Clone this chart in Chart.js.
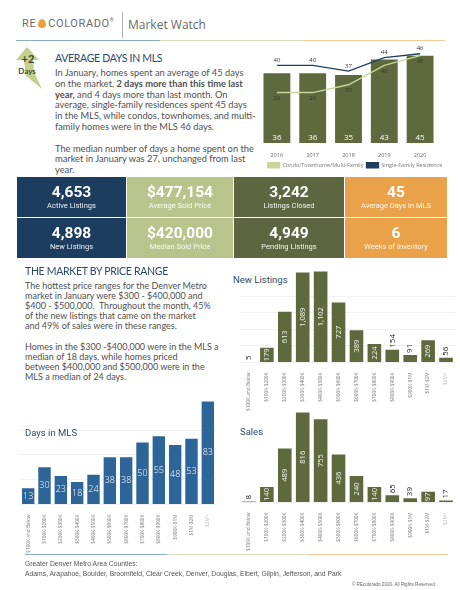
<!DOCTYPE html>
<html>
<head>
<meta charset="utf-8">
<title>REcolorado Market Watch</title>
<script src="https://cdn.jsdelivr.net/npm/chart.js@4.4.0/dist/chart.umd.min.js"></script>
<style>
  body { margin: 0; width: 460px; height: 590px; position: relative; background: #fff; overflow: hidden; font-family: 'Open Sans', sans-serif; }
  .abs { position: absolute; }
  .rule { position: absolute; height: 1.5px; }
  .txt { position: absolute; font-family: Lato, sans-serif; color: #4f4f4f; white-space: nowrap; }
  .head { position: absolute; font-family: Lato, sans-serif; color: #2c4a6b; white-space: nowrap; }
  .tiles { position: absolute; left: 17px; top: 177px; display: grid; grid-template-columns: 109px 106px 110px 102px; grid-template-rows: 40px 40px; gap: 1px; }
  .tile { display: flex; flex-direction: column; justify-content: center; align-items: center; color: #fff; font-family: Roboto, sans-serif; }
  .tile b { font-size: 15.5px; line-height: 16px; font-weight: 700; }
  .tile span { font-size: 7.5px; line-height: 11px; opacity: .92; }
  .navy { background: #1c3d5f; }
  .lime { background: #b7c58c; }
  .olive { background: #5d6641; }
  .orange { background: #e9a14a; }
  .ctitle { position: absolute; font-family: Roboto, sans-serif; font-size: 9.5px; color: #2c4a6b; background: #fff; }
</style>
</head>
<body>

<!-- header -->
<div class="abs" style="left:22px;top:17px;font:400 11px Roboto,sans-serif;color:#6b6b6b;letter-spacing:0.6px;white-space:nowrap">RE<span style="display:inline-block;width:8px;height:9px;margin:0 2px -1px 2px;background:#e9a040;border-radius:50% 50% 50% 50% / 65% 65% 35% 35%"></span>COLORADO<sup style="font-size:5px">®</sup></div>
<div class="abs" style="left:122px;top:12px;width:1px;height:26px;background:#b0b0b0"></div>
<div class="abs" style="left:128px;top:16px;font:400 12px 'Open Sans',sans-serif;color:#6a6a6a;white-space:nowrap">Market Watch</div>
<div class="rule" style="left:16px;top:39.5px;width:144px;background:#8aacca"></div>
<div class="rule" style="left:160px;top:39.5px;width:143px;background:#d6dfbd"></div>
<div class="rule" style="left:303px;top:39.5px;width:142px;background:#f4c893"></div>

<!-- +2 days badge -->
<svg class="abs" style="left:12px;top:46px" width="32" height="44" viewBox="0 0 32 44">
  <path d="M15 1 L27 14 L21 14 L22 26 L30 43 L14 30 L12 14 L4 14 Z" fill="#b9c97a" opacity="0.85"/>
</svg>
<div class="abs" style="left:14px;top:52px;width:28px;text-align:center;font:700 11px Lato,sans-serif;color:#3d4a2a">+2</div>
<div class="abs" style="left:12px;top:66px;width:30px;text-align:center;font:700 8px Lato,sans-serif;color:#3d4a2a">Days</div>

<div class="head" style="left:55px;top:52px;font-size:10.5px;letter-spacing:-0.3px">AVERAGE DAYS IN MLS</div>
<div class="txt" style="left:55px;top:68px;font-size:9.3px;line-height:10.8px">
In January, homes spent an average of 45 days<br>
on the market, <b>2 days more than this time last</b><br>
<b>year,</b> and 4 days more than last month. On<br>
average, single-family residences spent 45 days<br>
in the MLS, while condos, townhomes, and multi-<br>
family homes were in the MLS 46 days.<br>
<br>
The median number of days a home spent on the<br>
market in January was 27, unchanged from last<br>
year.
</div>

<div class="abs" style="left:255px;top:42px;width:200px;height:136px"><canvas id="daysTrend"></canvas></div>

<!-- tiles -->
<div class="tiles">
  <div class="tile navy"><b>4,653</b><span>Active Listings</span></div>
  <div class="tile lime"><b>$477,154</b><span>Average Sold Price</span></div>
  <div class="tile olive"><b>3,242</b><span>Listings Closed</span></div>
  <div class="tile orange"><b>45</b><span>Average Days in MLS</span></div>
  <div class="tile navy"><b>4,898</b><span>New Listings</span></div>
  <div class="tile lime"><b>$420,000</b><span>Median Sold Price</span></div>
  <div class="tile olive"><b>4,949</b><span>Pending Listings</span></div>
  <div class="tile orange"><b>6</b><span>Weeks of Inventory</span></div>
</div>

<div class="head" style="left:25px;top:265px;font-size:10.5px;letter-spacing:-0.3px">THE MARKET BY PRICE RANGE</div>
<div class="txt" style="left:25px;top:281px;font-size:9px;line-height:10.1px">
The hottest price ranges for the Denver Metro<br>
market in January were $300 - $400,000 and<br>
$400 - $500,000.&nbsp; Throughout the month, 45%<br>
of the new listings that came on the market<br>
and 49% of sales were in these ranges.<br>
<br>
Homes in the $300 -$400,000 were in the MLS a<br>
median of 18 days, while homes priced<br>
between $400,000 and $500,000 were in the<br>
MLS a median of 24 days.
</div>

<div class="abs" style="left:240px;top:270px;width:215px;height:143px"><canvas id="newListings"></canvas></div>
<div class="abs" style="left:240px;top:411px;width:215px;height:142px"><canvas id="sales"></canvas></div>
<div class="abs" style="left:20px;top:399px;width:196px;height:156px"><canvas id="daysMls"></canvas></div>

<div class="ctitle" style="left:233px;top:274px">New Listings</div>
<div class="ctitle" style="left:240px;top:426px">Sales</div>
<div class="ctitle" style="left:25px;top:427px">Days in MLS</div>

<!-- footer -->
<div class="rule" style="left:25px;top:553.5px;width:142px;background:#8aacca"></div>
<div class="rule" style="left:167px;top:553.5px;width:140px;background:#d6dfbd"></div>
<div class="rule" style="left:307px;top:553.5px;width:141px;background:#f4c893"></div>
<div class="abs" style="left:25px;top:559px;font:400 6.8px 'Liberation Sans',sans-serif;color:#555;line-height:10px;white-space:nowrap">Greater Denver Metro Area Counties:<br>Adams, Arapahoe, Boulder, Broomfield, Clear Creek, Denver, Douglas, Elbert, Gilpin, Jefferson, and Park</div>
<div class="abs" style="right:24px;top:582px;font:400 4.6px 'Liberation Sans',sans-serif;color:#666;white-space:nowrap">© REcolorado 2020. All Rights Reserved.</div>

<script>
// average days in MLS by year
const years = ['2016', '2017', '2018', '2019', '2020'];
const allDays = [36, 36, 35, 43, 45];
const condoDays = [26, 26, 30, 40, 45];
const sfrDays = [40, 40, 37, 44, 46];

// January by price range
const priceRanges = ['$100K and Below', '$100K-$200K', '$200K-$300K', '$300K-$400K', '$400K-$500K', '$500K-$600K',
                     '$600K-$700K', '$700K-$800K', '$800K-$900K', '$900K-$1M', '$1M-$2M', '$2M+'];
const newListings = [5, 179, 613, 1089, 1102, 727, 389, 224, 154, 91, 269, 56];
const sales = [8, 140, 489, 816, 755, 436, 240, 140, 65, 39, 97, 17];
const daysInMls = [13, 30, 23, 18, 24, 38, 38, 50, 55, 48, 53, 83];

Chart.defaults.font.family = "'Open Sans', sans-serif";
Chart.defaults.animation = false;

const fmt = v => v.toLocaleString('en-US');

// empty side axis, only there to hold space beside the plot
const spacer = (pos, w) => ({
  type: 'linear', position: pos, display: true,
  grid: { display: false }, border: { display: false }, ticks: { display: false },
  afterFit: ax => { ax.width = w; }
});

// labels on the yearly chart
const trendLabels = {
  id: 'trendLabels',
  afterDatasetsDraw(chart) {
    const ctx = chart.ctx;
    ctx.save();
    ctx.textAlign = 'center';
    ctx.textBaseline = 'middle';
    chart.getDatasetMeta(2).data.forEach((bar, i) => {
      ctx.font = "8px 'Open Sans'";
      ctx.fillStyle = '#fff';
      ctx.fillText(allDays[i], bar.x, bar.base - 5);
    });
    ctx.font = "6px 'Open Sans'";
    ctx.fillStyle = '#333';
    chart.getDatasetMeta(1).data.forEach((pt, i) => ctx.fillText(sfrDays[i], pt.x, pt.y - 5));
    chart.getDatasetMeta(0).data.forEach((pt, i) => ctx.fillText(condoDays[i], pt.x, pt.y + 6));
    ctx.restore();
  }
};

new Chart(document.getElementById('daysTrend'), {
  type: 'bar',
  data: {
    labels: years,
    datasets: [
      { type: 'line', label: 'Condo/Townhome/Multi-Family', data: condoDays, borderColor: '#c8d59b', backgroundColor: '#c8d59b', borderWidth: 1.3, pointRadius: 0, order: 1 },
      { type: 'line', label: 'Single-Family Residence', data: sfrDays, borderColor: '#1f3d61', backgroundColor: '#1f3d61', borderWidth: 1.3, pointRadius: 0, order: 0 },
      { label: 'All', data: allDays, backgroundColor: '#5e6a3d', barPercentage: 0.75, categoryPercentage: 1, order: 2 }
    ]
  },
  options: {
    responsive: true, maintainAspectRatio: false,
    layout: { padding: { top: 4 } },
    plugins: {
      tooltip: { enabled: false },
      legend: {
        position: 'bottom',
        labels: {
          filter: item => item.datasetIndex !== 2,
          sort: (a, b) => a.datasetIndex - b.datasetIndex,
          boxWidth: 12, boxHeight: 5, padding: 3,
          font: { size: 5.5 }, color: '#777'
        }
      }
    },
    scales: {
      x: { grid: { display: false }, border: { display: false }, ticks: { font: { size: 5.5 }, color: '#666', padding: 1 } },
      y: { display: false, min: 0, max: 50 },
      padL: spacer('left', 4),
      padR: spacer('right', 17)
    }
  },
  plugins: [trendLabels]
});

// value labels on the price range bars
const rangeLabels = {
  id: 'rangeLabels',
  afterDatasetsDraw(chart, args, opts) {
    const ctx = chart.ctx;
    const data = chart.data.datasets[0].data;
    ctx.save();
    chart.getDatasetMeta(0).data.forEach((bar, i) => {
      const v = data[i];
      if (!opts.rotate) {
        ctx.font = "300 9px 'Open Sans'";
        ctx.fillStyle = '#fff';
        ctx.textAlign = 'center';
        ctx.textBaseline = 'middle';
        ctx.fillText(fmt(v), bar.x, (bar.y + bar.base) / 2);
        return;
      }
      const inside = v >= opts.inside;
      ctx.save();
      ctx.translate(bar.x, inside ? (bar.y + bar.base) / 2 : bar.y - 2);
      ctx.rotate(-Math.PI / 2);
      ctx.textAlign = inside ? 'center' : 'left';
      ctx.textBaseline = 'middle';
      ctx.font = inside ? "7.5px 'Open Sans'" : "8px 'Open Sans'";
      ctx.fillStyle = inside ? '#f4f4ee' : '#222';
      ctx.fillText(fmt(v), 0, 0);
      ctx.restore();
    });
    ctx.restore();
  }
};

function rangeChart(id, values, color, yMax, step, labelOpts) {
  return new Chart(document.getElementById(id), {
    type: 'bar',
    data: { labels: priceRanges, datasets: [{ data: values, backgroundColor: color, barPercentage: 0.76, categoryPercentage: 1 }] },
    options: {
      responsive: true, maintainAspectRatio: false,
      plugins: { legend: { display: false }, tooltip: { enabled: false }, rangeLabels: labelOpts },
      scales: {
        x: {
          grid: { display: false }, border: { display: false },
          ticks: {
            minRotation: 90, maxRotation: 90, autoSkip: false, padding: 2,
            font: { size: 4.8 },
            color: c => c.index === priceRanges.length - 1 ? '#b5b5b5' : '#777'
          }
        },
        y: {
          min: 0, max: yMax,
          ticks: { display: false, stepSize: step },
          grid: { color: '#f1f1f1', drawTicks: false },
          border: { display: false },
          afterBuildTicks: ax => { ax.ticks = ax.ticks.filter(t => t.value % step === 0); }
        }
      }
    },
    plugins: [rangeLabels]
  });
}

rangeChart('newListings', newListings, '#5e6a3d', 1120, 200, { rotate: true, inside: 170 });
rangeChart('sales', sales, '#5e6a3d', 830, 200, { rotate: true, inside: 90 });
rangeChart('daysMls', daysInMls, '#2e6599', 85, 20, { rotate: false });
</script>
</body>
</html>
